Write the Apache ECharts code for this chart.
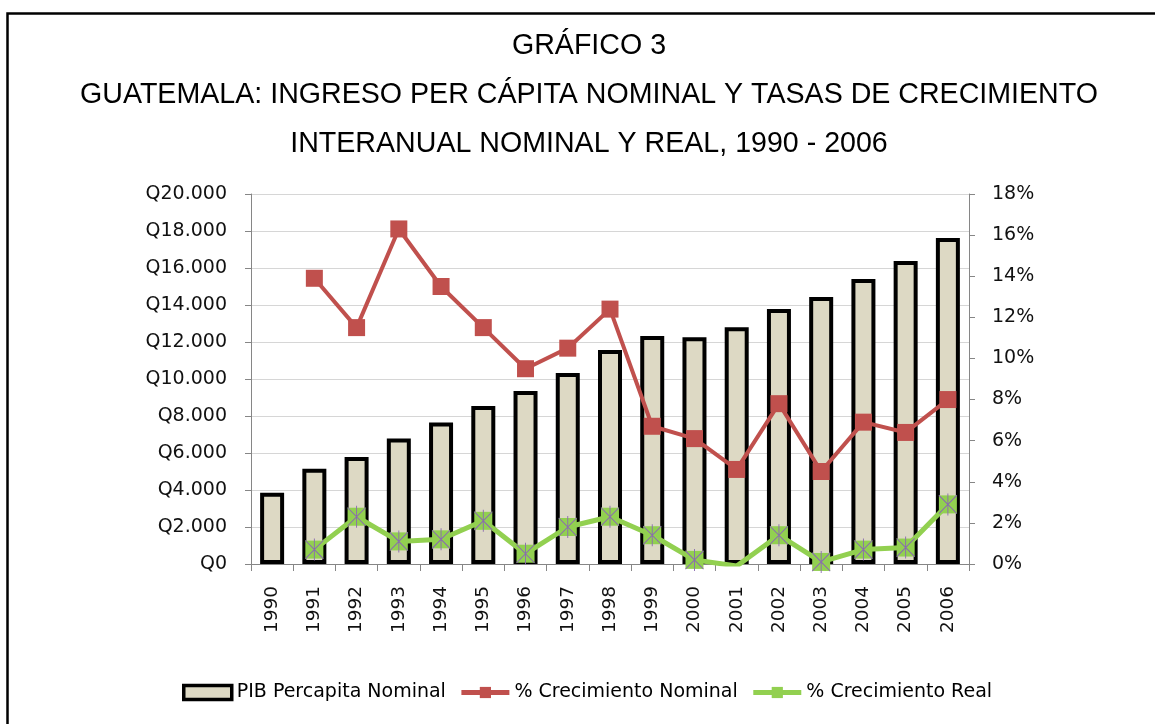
<!DOCTYPE html>
<html>
<head>
<meta charset="utf-8">
<title>Gráfico 3 - Guatemala</title>
<script src="https://cdn.jsdelivr.net/npm/echarts@6/dist/echarts.min.js"></script>
<style>
	html, body { margin:0; padding:0; background:#fff; }
	#main { width:1155px; height:724px; }
</style>
</head>
<body>
<div id="main"></div>
<script>
// datos
var anios = ['1990','1991','1992','1993','1994','1995','1996','1997','1998','1999','2000','2001','2002','2003','2004','2005','2006'];
var pibNominal = [3850, 5150, 5780, 6780, 7650, 8540, 9350, 10320, 11570, 12320, 12260, 12800, 13780, 14430, 15400, 16380, 17620];
var crecNominal = [null, 13.9, 11.5, 16.3, 13.5, 11.5, 9.5, 10.5, 12.4, 6.7, 6.1, 4.6, 7.8, 4.5, 6.9, 6.4, 8.0];
var crecReal = [null, 0.7, 2.3, 1.1, 1.2, 2.1, 0.5, 1.8, 2.3, 1.4, 0.2, -0.1, 1.4, 0.1, 0.7, 0.8, 2.9];

var fuenteEje = 'DejaVu Sans';
var myChart = echarts.init(document.getElementById('main'));

var option = {
	animation: false,
	backgroundColor: '#fff',
	title: {
		text: 'GRÁFICO 3\nGUATEMALA: INGRESO PER CÁPITA NOMINAL Y TASAS DE CRECIMIENTO\nINTERANUAL NOMINAL Y REAL, 1990 - 2006',
		left: 589,
		textAlign: 'center',
		top: 22,
		padding: 0,
		textStyle: {
			fontFamily: 'Liberation Sans',
			fontSize: 28.6,
			fontWeight: 'normal',
			color: '#000',
			lineHeight: 49
		}
	},
	graphic: [{
		type: 'rect',
		silent: true,
		shape: { x: 7.5, y: 13.5, width: 1300, height: 900 },
		style: { fill: 'none', stroke: '#000', lineWidth: 2.5 }
	}],
	legend: {
		left: 177,
		top: 678,
		itemWidth: 48,
		itemHeight: 14,
		itemGap: 13,
		textStyle: { fontFamily: fuenteEje, fontSize: 19, color: '#000' },
		data: [
			{ name: 'PIB Percapita Nominal', icon: 'rect', itemStyle: { borderWidth: 3.5, borderColor: '#000' } },
			{ name: '% Crecimiento Nominal', lineStyle: { width: 5 } },
			{ name: '% Crecimiento Real', lineStyle: { width: 5 } }
		]
	},
	grid: { left: 251, right: 186, top: 194, bottom: 160 },
	xAxis: {
		type: 'category',
		data: anios,
		axisLine: { lineStyle: { color: '#868686', width: 1 } },
		axisTick: { show: true, length: 7, lineStyle: { color: '#868686' } },
		axisLabel: {
			rotate: 90,
			margin: 22,
			fontFamily: fuenteEje,
			fontSize: 18.5,
			color: '#111'
		}
	},
	yAxis: [{
		type: 'value',
		min: 0,
		max: 20000,
		interval: 2000,
		axisLine: { show: true, lineStyle: { color: '#868686' } },
		axisTick: { show: true, length: 6, lineStyle: { color: '#868686' } },
		splitLine: { lineStyle: { color: '#d6d6d6', width: 1 } },
		axisLabel: {
			margin: 24,
			fontFamily: fuenteEje,
			fontSize: 19,
			color: '#111',
			formatter: function (v) {
				return v === 0 ? 'Q0' : 'Q' + (v / 1000) + '.000';
			}
		}
	}, {
		type: 'value',
		min: 0,
		max: 18,
		interval: 2,
		position: 'right',
		axisLine: { show: true, lineStyle: { color: '#868686' } },
		axisTick: { show: true, length: 6, lineStyle: { color: '#868686' } },
		splitLine: { show: false },
		axisLabel: {
			margin: 23,
			fontFamily: fuenteEje,
			fontSize: 19,
			color: '#111',
			formatter: '{value}%'
		}
	}],
	series: [{
		name: 'PIB Percapita Nominal',
		type: 'bar',
		barWidth: 24,
		data: pibNominal,
		itemStyle: { color: '#ddd9c4', borderColor: '#000', borderWidth: 4 },
		emphasis: { disabled: true }
	}, {
		name: '% Crecimiento Nominal',
		type: 'line',
		yAxisIndex: 1,
		data: crecNominal,
		symbol: 'rect',
		symbolSize: 17,
		lineStyle: { color: '#c0504d', width: 4 },
		itemStyle: { color: '#c0504d' },
		emphasis: { disabled: true }
	}, {
		name: '% Crecimiento Real',
		type: 'line',
		yAxisIndex: 1,
		data: crecReal,
		symbol: 'rect',
		symbolSize: 18,
		lineStyle: { color: '#92d050', width: 5 },
		itemStyle: { color: '#92d050' },
		emphasis: { disabled: true }
	}, {
		// asterisco morado sobre los marcadores verdes
		name: 'estrella',
		type: 'line',
		yAxisIndex: 1,
		data: crecReal,
		symbol: 'path://M0,2L20,22M20,2L0,22M10,0L10,24',
		symbolSize: [18, 22],
		lineStyle: { width: 0, opacity: 0 },
		itemStyle: { color: 'rgba(0,0,0,0)', borderColor: '#8a6bb0', borderWidth: 1 },
		emphasis: { disabled: true },
		silent: true
	}]
};

myChart.setOption(option);
</script>
</body>
</html>
